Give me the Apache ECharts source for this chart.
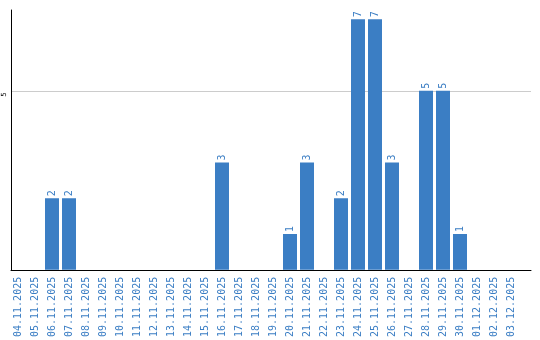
<!DOCTYPE html>
<html><head><meta charset="utf-8">
<script src="https://cdn.jsdelivr.net/npm/echarts@6/dist/echarts.min.js"></script>
<style>html,body{margin:0;padding:0;background:#fff}#c{width:540px;height:340px}</style>
</head><body><div id="c"></div>
<script>
const categories = ['04.11.2025','05.11.2025','06.11.2025','07.11.2025','08.11.2025','09.11.2025','10.11.2025','11.11.2025','12.11.2025','13.11.2025','14.11.2025','15.11.2025','16.11.2025','17.11.2025','18.11.2025','19.11.2025','20.11.2025','21.11.2025','22.11.2025','23.11.2025','24.11.2025','25.11.2025','26.11.2025','27.11.2025','28.11.2025','29.11.2025','30.11.2025','01.12.2025','02.12.2025','03.12.2025'];
const values = [null,null,2,2,null,null,null,null,null,null,null,null,3,null,null,null,1,3,null,2,7,7,3,null,5,5,1,null,null,null];
const yTicks = [5];

const blue = '#3b7ec4';
const chart = echarts.init(document.getElementById('c'), null, {renderer:'canvas'});
chart.setOption({
  animation:false,
  grid:[
    {left:11, right:9, top:10, bottom:70},
    {left:9.5, width:510, top:10, bottom:70}
  ],
  xAxis:[
    {gridIndex:0, type:'value', min:0, max:1, axisLine:{show:true, onZero:false, lineStyle:{color:'#000', width:1}}, axisTick:{show:false}, axisLabel:{show:false}, splitLine:{show:false}},
    {gridIndex:1, type:'category', data:categories, axisLine:{show:false}, axisTick:{show:false},
     axisLabel:{interval:0, rotate:90, fontFamily:'DejaVu Sans Mono', fontSize:10, color:blue, margin:7}}
  ],
  yAxis:[
    {gridIndex:0, type:'value', min:0, max:7.26, interval:5,
     axisLine:{show:true, lineStyle:{color:'#000', width:1}}, axisTick:{show:false},
     axisLabel:{rotate:90, fontSize:7, color:'#000', margin:3, fontFamily:'DejaVu Sans', padding:[0,7,0,0],
       formatter:v => yTicks.includes(v) ? String(v) : ''},
     splitLine:{show:true, lineStyle:{color:['transparent','#cccccc','transparent'], width:1}}},
    {gridIndex:1, type:'value', min:0, max:7.26, show:false, splitLine:{show:false}}
  ],
  series:[{
    type:'bar', xAxisIndex:1, yAxisIndex:1, data:values, barWidth:14,
    itemStyle:{color:blue},
    label:{show:true, position:'top', rotate:90, align:'left', verticalAlign:'middle', distance:2,
      fontFamily:'DejaVu Sans Mono', fontSize:10, color:blue}
  }]
});
</script></body></html>
